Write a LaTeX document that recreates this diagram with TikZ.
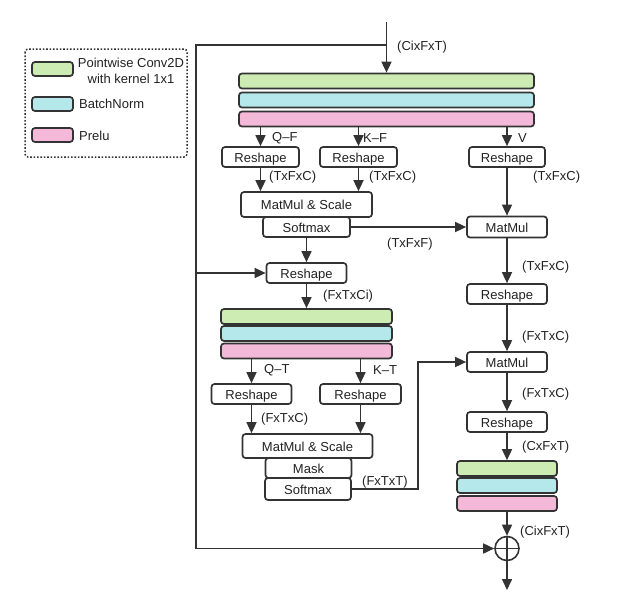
\documentclass[tikz,border=0pt]{standalone}
\usepackage{fontspec}
\setmainfont{Liberation Sans}
\usetikzlibrary{arrows.meta}
\definecolor{lc}{RGB}{51,51,51}
\definecolor{tc}{RGB}{34,34,34}
\definecolor{gfill}{RGB}{204,236,180}
\definecolor{cfill}{RGB}{180,232,234}
\definecolor{pfill}{RGB}{244,184,216}
\begin{document}
\begin{tikzpicture}[x=1pt,y=-1pt,
  every node/.style={font=\fontsize{13}{15.5}\selectfont, text=tc},
  conn/.style={draw=lc, line width=1.6pt},
  arr/.style={conn, -{Triangle[length=11pt,width=10pt]}},
  box/.style={draw=lc, line width=1.7pt, rounded corners=3pt, fill=white, inner sep=0pt, text height=10.6pt, text depth=0pt},
  bar/.style={draw=lc, line width=1.7pt, rounded corners=3pt, inner sep=0pt, minimum height=15pt},
  lab/.style={anchor=west, inner sep=0pt}
]
\useasboundingbox (0,0) rectangle (632,611);

% legend
\draw[draw=lc, line width=1.5pt, dash pattern=on 1.6pt off 1.8pt, rounded corners=3pt] (25,49) rectangle (187,157);
\node[bar, fill=gfill, minimum width=41pt, minimum height=14pt] (lg) at (52.5,69) {};
\node[bar, fill=cfill, minimum width=41pt, minimum height=14pt] (lc1) at (52.5,104) {};
\node[bar, fill=pfill, minimum width=41pt, minimum height=14pt] (lp) at (52.5,135) {};
\node[align=center, inner sep=0pt] (lgt) at (131,71) {Pointwise Conv2D\\with kernel 1x1};
\node[lab] (lct) at (79,104) {BatchNorm};
\node[lab] (lpt) at (79,135.5) {Prelu};

% top block
\node[bar, fill=gfill, minimum width=295pt] (g1) at (386.5,81) {};
\node[bar, fill=cfill, minimum width=295pt] (c1) at (386.5,100) {};
\node[bar, fill=pfill, minimum width=295pt] (p1) at (386.5,119) {};

% first row
\node[box, minimum width=77pt, minimum height=20pt] (r1) at (260.5,157) {Reshape};
\node[box, minimum width=77pt, minimum height=20pt] (r2) at (358.5,157) {Reshape};
\node[box, minimum width=76pt, minimum height=20pt] (r3) at (507,157) {Reshape};
\node[box, minimum width=131pt, minimum height=25pt] (ms1) at (306.5,204.5) {MatMul \& Scale};
\node[box, minimum width=87pt, minimum height=20pt] (sm1) at (306.5,227) {Softmax};
\node[box, minimum width=80pt, minimum height=21pt] (mm1) at (507,227) {MatMul};
\node[box, minimum width=80pt, minimum height=20pt] (rm) at (306.5,273) {Reshape};
\node[box, minimum width=80pt, minimum height=20pt] (r4) at (507,294) {Reshape};
\node[box, minimum width=80pt, minimum height=20pt] (mm2) at (507,362) {MatMul};
\node[box, minimum width=80pt, minimum height=20pt] (r5) at (507,422) {Reshape};

% middle block
\node[bar, fill=gfill, minimum width=171pt] (g2) at (306.5,316.5) {};
\node[bar, fill=cfill, minimum width=171pt] (c2) at (306.5,333.5) {};
\node[bar, fill=pfill, minimum width=171pt] (p2) at (306.5,351) {};
\node[box, minimum width=80pt, minimum height=20pt] (rq) at (251.5,394) {Reshape};
\node[box, minimum width=81pt, minimum height=20pt] (rk) at (360.5,394) {Reshape};
\node[box, minimum width=130pt, minimum height=24pt] (ms2) at (307.5,446) {MatMul \& Scale};
\node[box, minimum width=86pt, minimum height=20pt] (mask) at (308.5,468) {Mask};
\node[box, minimum width=86pt, minimum height=22pt] (sm2) at (308,489) {Softmax};

% bottom block
\node[bar, fill=gfill, minimum width=100pt] (g3) at (507,468.5) {};
\node[bar, fill=cfill, minimum width=100pt] (c3) at (507,485.5) {};
\node[bar, fill=pfill, minimum width=100pt] (p3) at (507,503.5) {};
\node[circle, draw=lc, line width=1.6pt, minimum size=24pt, inner sep=0pt] (plus) at (507,548.5) {};
\draw[conn] (plus.north) -- (plus.south);
\draw[conn] (plus.west) -- (plus.east);

% coordinates
\coordinate (in) at (386.5,22);
\coordinate (sp) at (386.5,45);
\coordinate (lt) at (196,45);
\coordinate (lm) at (196,273);
\coordinate (lb) at (196,548.5);
\coordinate (out) at (507,590);
\coordinate (k1) at (418,489);
\coordinate (k2) at (418,362);

% connectors
\draw[arr] (in) -- (g1.north);
\draw[arr] (sp) -- (lt) -- (lb) -- (plus.west);
\draw[arr] (lm) -- (rm.west);
\draw[arr] (r1.north |- p1.south) -- (r1.north);
\draw[arr] (r2.north |- p1.south) -- (r2.north);
\draw[arr] (r3.north |- p1.south) -- (r3.north);
\draw[arr] (r1.south) -- (r1.south |- ms1.north);
\draw[arr] (r2.south) -- (r2.south |- ms1.north);
\draw[arr] (r3.south) -- (mm1.north);
\draw[arr] (sm1.east) -- (sm1.east -| mm1.west);
\draw[arr] (sm1.south) -- (rm.north);
\draw[arr] (mm1.south) -- (r4.north);
\draw[arr] (r4.south) -- (mm2.north);
\draw[arr] (mm2.south) -- (r5.north);
\draw[arr] (r5.south) -- (g3.north);
\draw[arr] (p3.south) -- (plus.north);
\draw[arr] (plus.south) -- (out);
\draw[arr] (rm.south) -- (rm.south |- g2.north);
\draw[arr] (rq.north |- p2.south) -- (rq.north);
\draw[arr] (rk.north |- p2.south) -- (rk.north);
\draw[arr] (rq.south) -- (rq.south |- ms2.north);
\draw[arr] (rk.south) -- (rk.south |- ms2.north);
\draw[arr] (sm2.east) -- (k1) -- (k2) -- (mm2.west);

% labels
\node[lab] (t1) at (397,47) {(CixFxT)};
\node[lab] (t2) at (272,138.5) {Q–F};
\node[lab] (t3) at (363,138.5) {K–F};
\node[lab] (t4) at (518,138.5) {V};
\node[lab] (t5) at (269,177.5) {(TxFxC)};
\node[lab] (t6) at (369,177.5) {(TxFxC)};
\node[lab] (t7) at (533,177.5) {(TxFxC)};
\node[lab] (t8) at (387,244) {(TxFxF)};
\node[lab] (t9) at (522,267.5) {(TxFxC)};
\node[lab] (t10) at (323,296.5) {(FxTxCi)};
\node[lab] (t11) at (522,337.5) {(FxTxC)};
\node[lab] (t12) at (264,370.5) {Q–T};
\node[lab] (t13) at (373,370.5) {K–T};
\node[lab] (t14) at (522,394.5) {(FxTxC)};
\node[lab] (t15) at (261,419.5) {(FxTxC)};
\node[lab] (t16) at (362,482) {(FxTxT)};
\node[lab] (t17) at (522,447.5) {(CxFxT)};
\node[lab] (t18) at (520,532.5) {(CixFxT)};
\end{tikzpicture}
\end{document}
